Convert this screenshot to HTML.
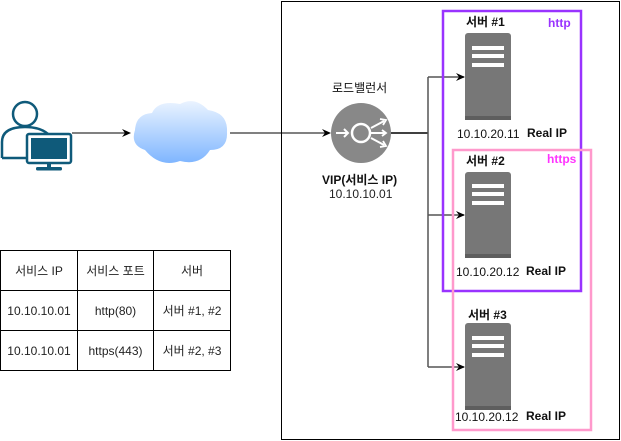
<!DOCTYPE html>
<html><head><meta charset="utf-8"><style>
body{margin:0;width:621px;height:441px;background:#fff;position:relative;overflow:hidden;font-family:"Liberation Sans","Noto Sans CJK KR",sans-serif;}
.t{position:absolute;font-size:12px;color:#111;white-space:nowrap;}
.b{font-weight:bold;}
table{position:absolute;left:0;top:250px;border-collapse:collapse;font-size:12px;}
td{border:1px solid #000;height:39px;text-align:center;padding:0;color:#222;}
</style></head><body>
<svg width="621" height="441" style="position:absolute;left:0;top:0">
<defs>
<marker id="a" markerWidth="10" markerHeight="10" refX="8" refY="5" orient="auto" markerUnits="userSpaceOnUse"><path d="M0,1 L9,5 L0,9 L3,5z" fill="#000"/></marker>
<linearGradient id="cg" x1="0" y1="0" x2="0" y2="1"><stop offset="0" stop-color="#eaf3ff"/><stop offset="1" stop-color="#7fb6ff"/></linearGradient>
</defs>
<rect x="281.5" y="1.5" width="338" height="438" fill="none" stroke="#000"/>
<circle cx="25" cy="114" r="12" fill="#fff" stroke="#0f5a7a" stroke-width="2.5"/>
<path d="M2,158 L2,142 Q2,127 25,127 Q40,127 48,134" fill="none" stroke="#0f5a7a" stroke-width="2.5"/>
<path d="M2,158 L27,158" stroke="#0f5a7a" stroke-width="2.5"/>
<rect x="27" y="134" width="44" height="29" rx="2" fill="#fff" stroke="#0f5a7a" stroke-width="2.5"/>
<rect x="31" y="138" width="36" height="21" fill="#0f5a7a"/>
<rect x="47" y="163" width="4" height="5" fill="#0f5a7a"/>
<rect x="36" y="167" width="26" height="3.5" rx="1.5" fill="#0f5a7a"/>
<line x1="72" y1="133" x2="130" y2="133" stroke="#000" marker-end="url(#a)"/>
<path d="M145,150 Q130,145 135,130 Q136,114 152,113 Q158,100 180,104 Q195,96 208,110 Q228,113 227,132 Q228,150 210,150 Q200,166 180,161 Q160,168 145,150z" fill="url(#cg)"/>
<line x1="230" y1="133" x2="330" y2="133" stroke="#000" marker-end="url(#a)"/>
<circle cx="361" cy="133" r="30" fill="#888"/>
<circle cx="361" cy="133" r="9" fill="none" stroke="#fff" stroke-width="2.5"/>
<path d="M336,133 H348 M344,129 L348,133 L344,137" fill="none" stroke="#fff" stroke-width="2"/>
<path d="M371,128 L384,121 M371,133 L385,133 M371,138 L384,145" stroke="#fff" stroke-width="2"/>
<path d="M380,119 L386,120 L383,125 M382,130 L386,133 L382,136 M380,147 L386,146 L383,141" fill="none" stroke="#fff" stroke-width="1.8"/>
<path d="M391,133 H428" stroke="#000" stroke-width="1.5"/>
<path d="M428,77 V367" stroke="#555" stroke-width="1.5"/>
<line x1="428" y1="77" x2="464" y2="77" stroke="#555" stroke-width="1.5" marker-end="url(#a)"/>
<line x1="428" y1="215" x2="464" y2="215" stroke="#555" stroke-width="1.5" marker-end="url(#a)"/>
<line x1="428" y1="367" x2="464" y2="367" stroke="#555" stroke-width="1.5" marker-end="url(#a)"/>
<g fill="#777">
<rect x="465" y="33" width="46" height="87" rx="3"/>
<rect x="465" y="172" width="46" height="86" rx="3"/>
<rect x="465" y="323" width="46" height="87" rx="3"/>
</g>
<g fill="#5e5e5e"><rect x="465" y="116" width="46" height="4"/><rect x="465" y="254" width="46" height="4"/><rect x="465" y="406" width="46" height="4"/></g>
<g fill="#fff">
<rect x="472" y="46" width="32" height="4"/><rect x="472" y="54" width="32" height="4"/><rect x="472" y="63" width="32" height="4"/>
<rect x="472" y="184" width="32" height="4"/><rect x="472" y="192" width="32" height="4"/><rect x="472" y="201" width="32" height="4"/>
<rect x="472" y="336" width="32" height="4"/><rect x="472" y="344" width="32" height="4"/><rect x="472" y="353" width="32" height="4"/>
</g>
<rect x="443" y="11" width="138" height="280" fill="none" stroke="#9933ff" stroke-width="2.5"/>
<rect x="453" y="150" width="138" height="280" fill="none" stroke="#ff99cc" stroke-width="2.5"/>
</svg>
<div class="t" style="left:332px;top:79px">로드밸런서</div>
<div class="t b" style="left:322px;top:171px">VIP(서비스 IP)</div>
<div class="t" style="left:329px;top:187px;color:#222">10.10.10.01</div>
<div class="t b" style="left:466px;top:13px">서버 #1</div>
<div class="t b" style="left:466px;top:152px">서버 #2</div>
<div class="t b" style="left:468px;top:306px">서버 #3</div>
<div class="t" style="left:548px;top:16px;color:#9933ff;font-weight:bold">http</div>
<div class="t" style="left:547px;top:152px;color:#ff33ff;font-weight:bold">https</div>
<div class="t" style="left:457px;top:127px">10.10.20.11</div>
<div class="t b" style="left:527px;top:126px">Real IP</div>
<div class="t" style="left:456px;top:265px">10.10.20.12</div>
<div class="t b" style="left:526px;top:264px">Real IP</div>
<div class="t" style="left:455px;top:410px">10.10.20.12</div>
<div class="t b" style="left:526px;top:409px">Real IP</div>
<table>
<tr><td style="width:76px">서비스 IP</td><td style="width:75px">서비스 포트</td><td style="width:76px">서버</td></tr>
<tr><td>10.10.10.01</td><td>http(80)</td><td>서버 #1, #2</td></tr>
<tr><td>10.10.10.01</td><td>https(443)</td><td>서버 #2, #3</td></tr>
</table>
</body></html>
